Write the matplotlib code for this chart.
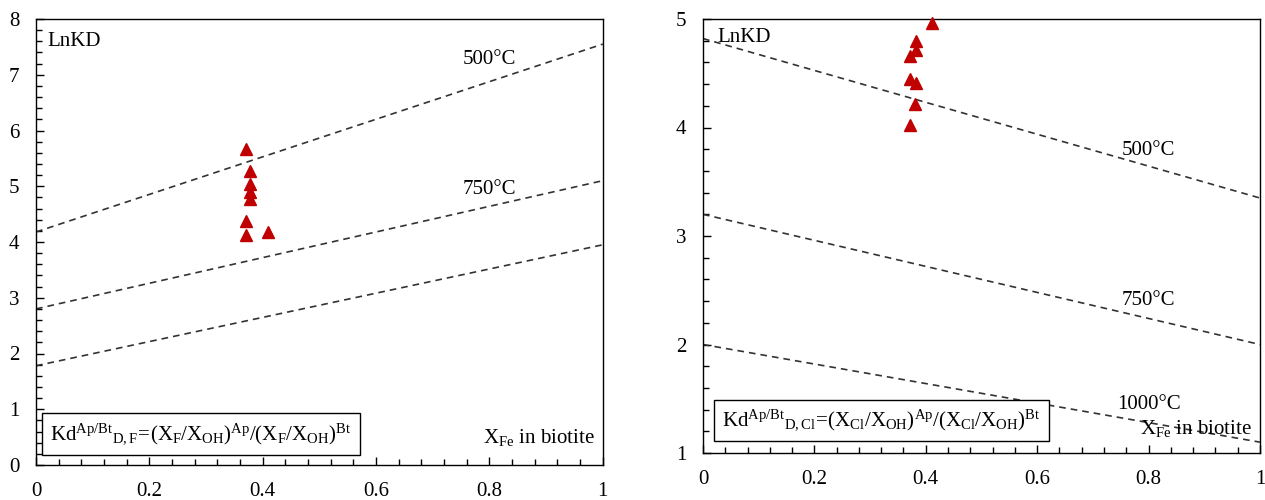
import numpy as np
import matplotlib.pyplot as plt
from matplotlib.ticker import MultipleLocator

plt.rcParams['font.family'] = ['Liberation Serif', 'DejaVu Serif']
plt.rcParams['mathtext.fontset'] = 'custom'
plt.rcParams['mathtext.rm'] = 'Liberation Serif'
plt.rcParams['mathtext.it'] = 'Liberation Serif'

# 左图: F 分配
f_x = [0.370, 0.378, 0.378, 0.378, 0.378, 0.370, 0.370, 0.409]
f_y = [5.66, 5.27, 5.04, 4.89, 4.77, 4.37, 4.12, 4.18]
f_lines = {'500°C': (4.18, 7.55), '750°C': (2.80, 5.10), '': (1.78, 3.95)}
f_lab = {'500°C': (0.80, 7.28), '750°C': (0.80, 4.95)}

# 右图: Cl 分配
cl_x = [0.411, 0.383, 0.383, 0.371, 0.371, 0.383, 0.381, 0.371]
cl_y = [4.96, 4.80, 4.71, 4.66, 4.45, 4.41, 4.22, 4.02]
cl_lines = {'500°C': (4.82, 3.35), '750°C': (3.20, 2.00), '1000°C': (2.00, 1.10)}
cl_lab = {'500°C': (0.80, 3.79), '750°C': (0.80, 2.41), '1000°C': (0.80, 1.45)}

FS = 15

fig = plt.figure(figsize=(12.65, 5), dpi=100)
ax1 = fig.add_axes([0.0285, 0.07, 0.448, 0.892])
ax2 = fig.add_axes([0.5557, 0.094, 0.4403, 0.868])


def style(ax, ymin, ymax):
    ax.set_xlim(0, 1)
    ax.set_ylim(ymin, ymax)
    ax.xaxis.set_major_locator(MultipleLocator(0.2))
    ax.xaxis.set_minor_locator(MultipleLocator(0.04))
    ax.yaxis.set_major_locator(MultipleLocator(1))
    ax.yaxis.set_minor_locator(MultipleLocator(0.2))
    ax.tick_params(which='both', direction='in', top=False, right=False, labelsize=FS)
    ax.tick_params(which='major', length=6, width=1)
    ax.tick_params(which='minor', length=4, width=1)
    ax.tick_params(axis='x', pad=12)
    ax.tick_params(axis='y', pad=12)
    ax.xaxis.set_major_formatter(lambda v, p: '%g' % round(v, 2))
    for s in ax.spines.values():
        s.set_linewidth(1.0)


xx = np.array([0, 1])
for name, (a, b) in f_lines.items():
    ax1.plot(xx, [a, b], ls=(0, (4, 3)), color='#333333', lw=1.2)
for name, (x, y) in f_lab.items():
    ax1.text(x, y, name, fontsize=FS, ha='center', va='center')
ax1.plot(f_x, f_y, '^', color='#c00000', ms=8, mec='#c00000')
style(ax1, 0, 8)
ax1.text(0.02, 7.6, 'LnKD', fontsize=FS, va='center')
ax1.text(0.985, 0.5, r'$\mathrm{X_{Fe}}$ in biotite', fontsize=FS, ha='right', va='center')
ax1.text(0.025, 0.55, r'$\mathrm{Kd^{Ap/Bt}{}_{D,F}\!=\!(X_F/X_{OH})^{Ap}/(X_F/X_{OH})^{Bt}}$',
         fontsize=FS, va='center',
         bbox=dict(boxstyle='square,pad=0.4', fc='white', ec='black', lw=1))

for name, (a, b) in cl_lines.items():
    ax2.plot(xx, [a, b], ls=(0, (4, 3)), color='#333333', lw=1.2)
for name, (x, y) in cl_lab.items():
    ax2.text(x, y, name, fontsize=FS, ha='center', va='center')
ax2.plot(cl_x, cl_y, '^', color='#c00000', ms=8, mec='#c00000', clip_on=False, zorder=5)
style(ax2, 1, 5)
ax2.text(0.025, 4.83, 'LnKD', fontsize=FS, va='center')
ax2.text(0.985, 1.23, r'$\mathrm{X_{Fe}}$ in biotite', fontsize=FS, ha='right', va='center')
ax2.text(0.035, 1.3, r'$\mathrm{Kd^{Ap/Bt}{}_{D,Cl}\!=\!(X_{Cl}/X_{OH})^{Ap}/(X_{Cl}/X_{OH})^{Bt}}$',
         fontsize=FS, va='center',
         bbox=dict(boxstyle='square,pad=0.4', fc='white', ec='black', lw=1))

plt.savefig('out.png', dpi=100)
